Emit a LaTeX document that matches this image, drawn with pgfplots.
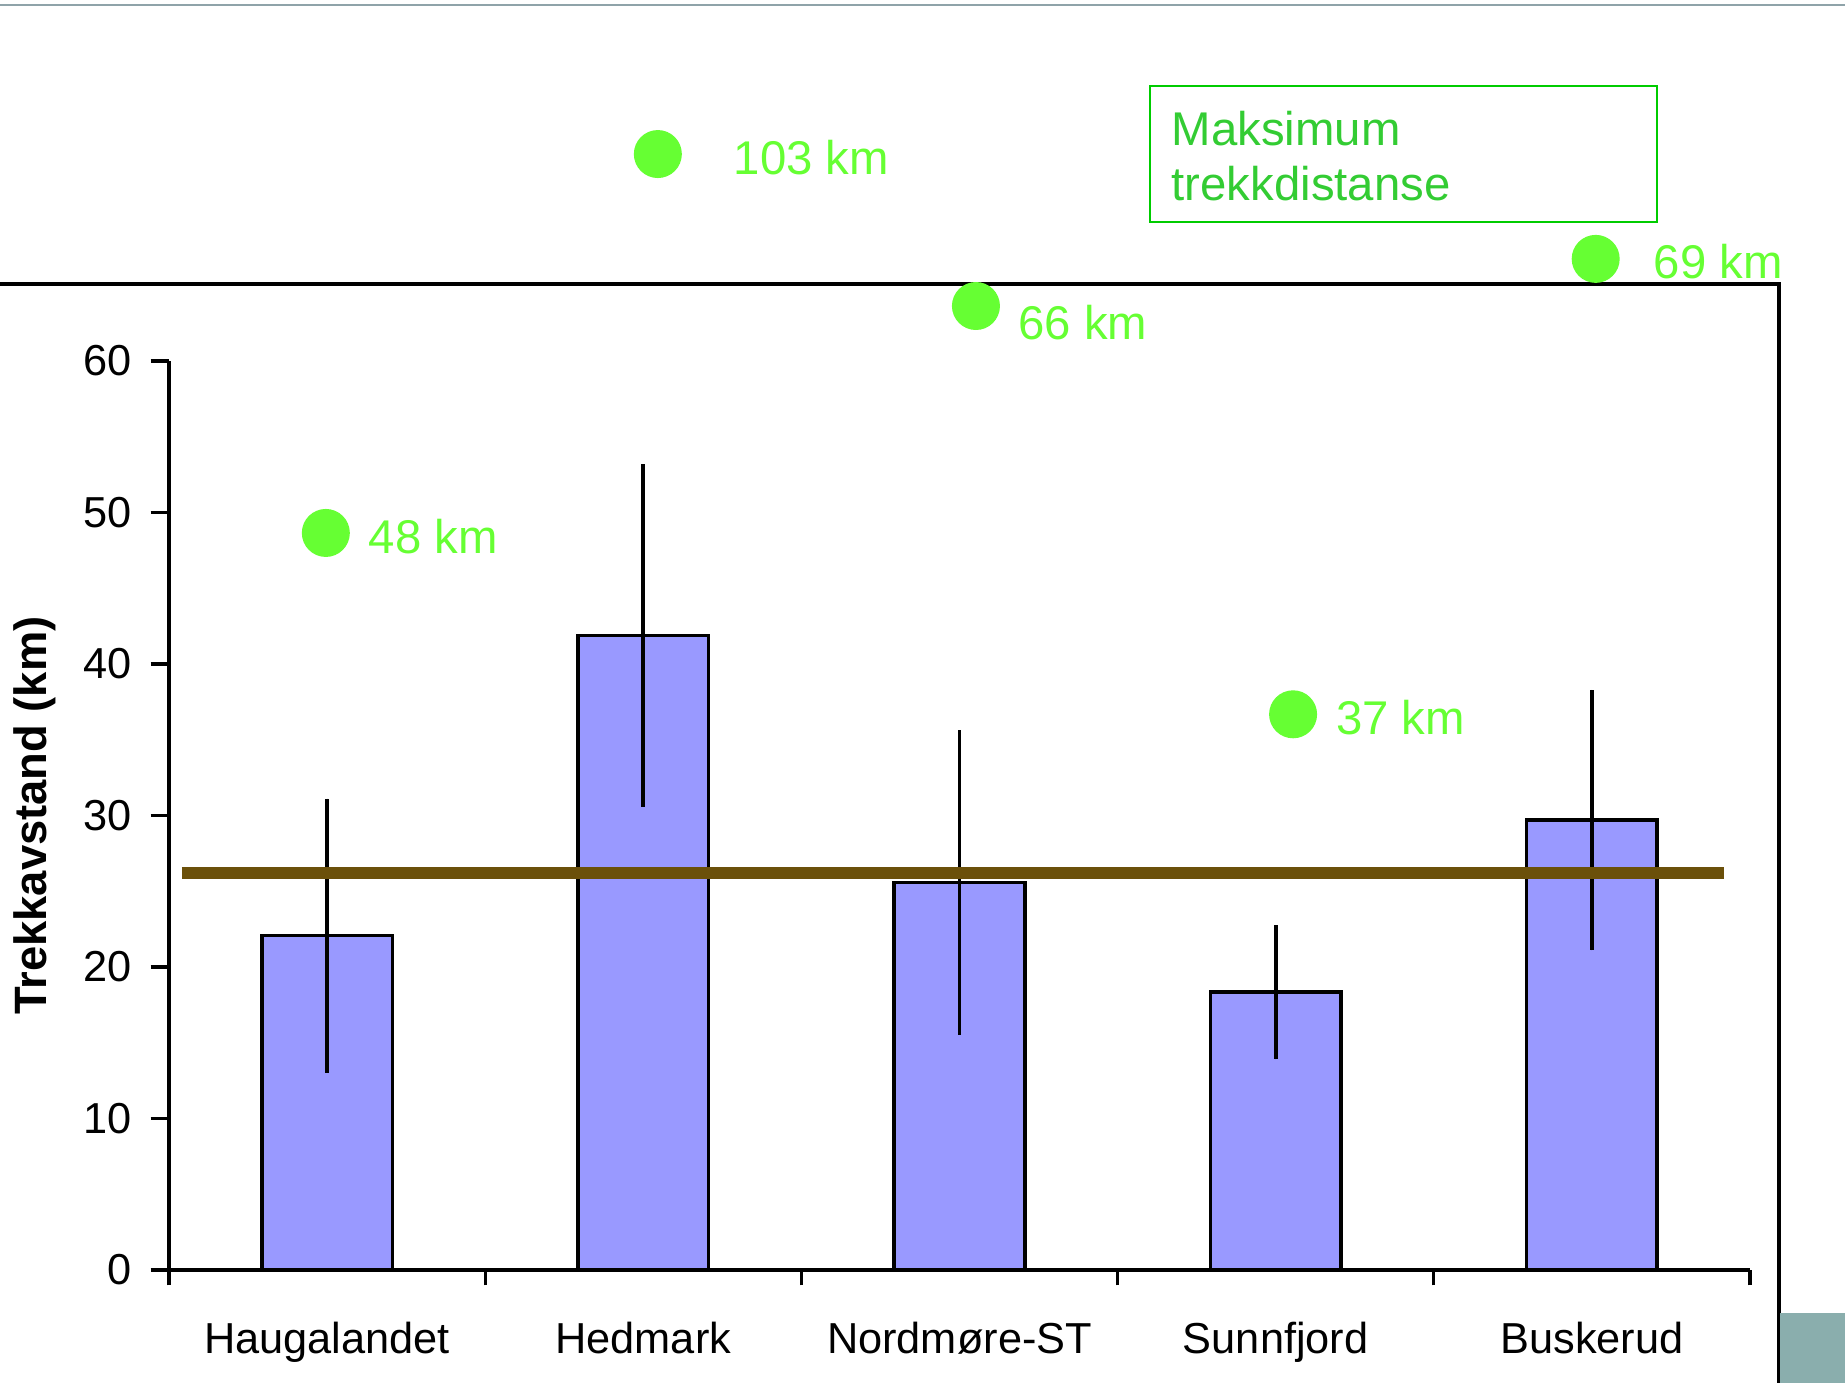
\documentclass[border=0pt]{standalone}
\usepackage{pgfplots}
\pgfplotsset{compat=1.18}
\usepackage{pgfplotstable}
\usepackage{fontspec}
\setmainfont{Liberation Sans}

\definecolor{barblue}{HTML}{9999FF}
\definecolor{dotgreen}{HTML}{66FF33}
\definecolor{boxgreen}{HTML}{00CC00}
\definecolor{txtgreen}{HTML}{33CC33}
\definecolor{meanbrown}{HTML}{6B500A}
\definecolor{topgray}{HTML}{8FA3A9}
\definecolor{cornerteal}{HTML}{8AAEAD}

% mean distance per area, with error
\pgfplotstableread{
x y err
0 22.07 9.05
1 41.89 11.3
2 25.57 10.05
3 18.34 4.43
4 29.69 8.6
}\bars

% maximum distance dots (drawn where the slide puts them)
\pgfplotstableread{
x y
-0.004 48.65
1.046 73.66
2.052 63.63
3.055 36.68
4.012 66.74
}\maxdist

\begin{document}
\begin{tikzpicture}
\useasboundingbox (0,0) rectangle (553.5pt,414.9pt);

% slide frame
\begin{scope}[x=0.3pt,y=-0.3pt,shift={(0,414.9pt)}]
\draw[topgray, line width=0.8pt] (0,5) -- (1845,5);
\draw[black, line width=1.2pt] (0,284) -- (1779,284) -- (1779,1383);
\fill[cornerteal] (1780,1313) rectangle (1845,1383);
\end{scope}

\begin{axis}[
  at={(50.7pt,33.9pt)}, anchor=south west,
  scale only axis, width=474.3pt, height=272.7pt,
  xmin=-0.5, xmax=4.5, ymin=0, ymax=60,
  axis lines*=left,
  axis line style={line width=1pt},
  clip=false,
  tick align=outside,
  tick style={black, line width=1pt},
  ytick={0,10,...,60},
  major tick length=5.5pt,
  xtick={0,1,2,3,4},
  xticklabels={Haugalandet,Hedmark,Nordmøre-ST,Sunnfjord,Buskerud},
  major x tick style={draw=none},
  minor xtick={-0.5,0.5,1.5,2.5,3.5,4.5},
  minor tick length=4.6pt,
  tick label style={font=\fontsize{13}{15}\selectfont},
  /pgf/number format/assume math mode=true,
  yticklabel style={anchor=east, inner sep=0pt, xshift=-5.4pt},
  xticklabel style={anchor=base, inner sep=0pt, yshift=-19.5pt},
  ylabel={Trekkavstand (km)},
  ylabel style={at={(axis description cs:-0.0848,0.5)}, anchor=center,
    font=\fontsize{13.6}{15}\selectfont\bfseries},
]

\addplot[ybar, bar width=0.413, fill=barblue, draw=black, line width=1.1pt,
  error bars/.cd, y dir=both, y explicit, error mark=none,
  error bar style={line width=1.1pt, black}]
  table[x=x, y=y, y error=err] {\bars};

\addplot[meanbrown, line width=3.6pt] coordinates {(-0.459,26.18) (4.418,26.18)};

\addplot[only marks, mark=*, mark size=7pt, mark options={fill=dotgreen, draw=dotgreen}]
  table[x=x, y=y] {\maxdist};

\begin{scope}[every node/.style={anchor=west, inner sep=0pt, text=dotgreen,
    font=\fontsize{14.2}{17}\selectfont}]
\node at (axis cs:0.130,48.41) {48 km};
\node at (axis cs:1.284,73.42) {103 km};
\node at (axis cs:2.184,62.55) {66 km};
\node at (axis cs:3.189,36.45) {37 km};
\node at (axis cs:4.194,66.59) {69 km};
\end{scope}
\end{axis}

% legend-like caption box
\begin{scope}[x=0.3pt,y=-0.3pt,shift={(0,414.9pt)}]
\draw[boxgreen, line width=0.6pt] (1149.6,85.9) rectangle (1656.8,222.4);
\node[anchor=base west, inner sep=0pt, text=txtgreen, font=\fontsize{14.2}{17}\selectfont] at (1171,146) {Maksimum};
\node[anchor=base west, inner sep=0pt, text=txtgreen, font=\fontsize{14.2}{17}\selectfont] at (1171,201) {trekkdistanse};
\end{scope}
\end{tikzpicture}
\end{document}
